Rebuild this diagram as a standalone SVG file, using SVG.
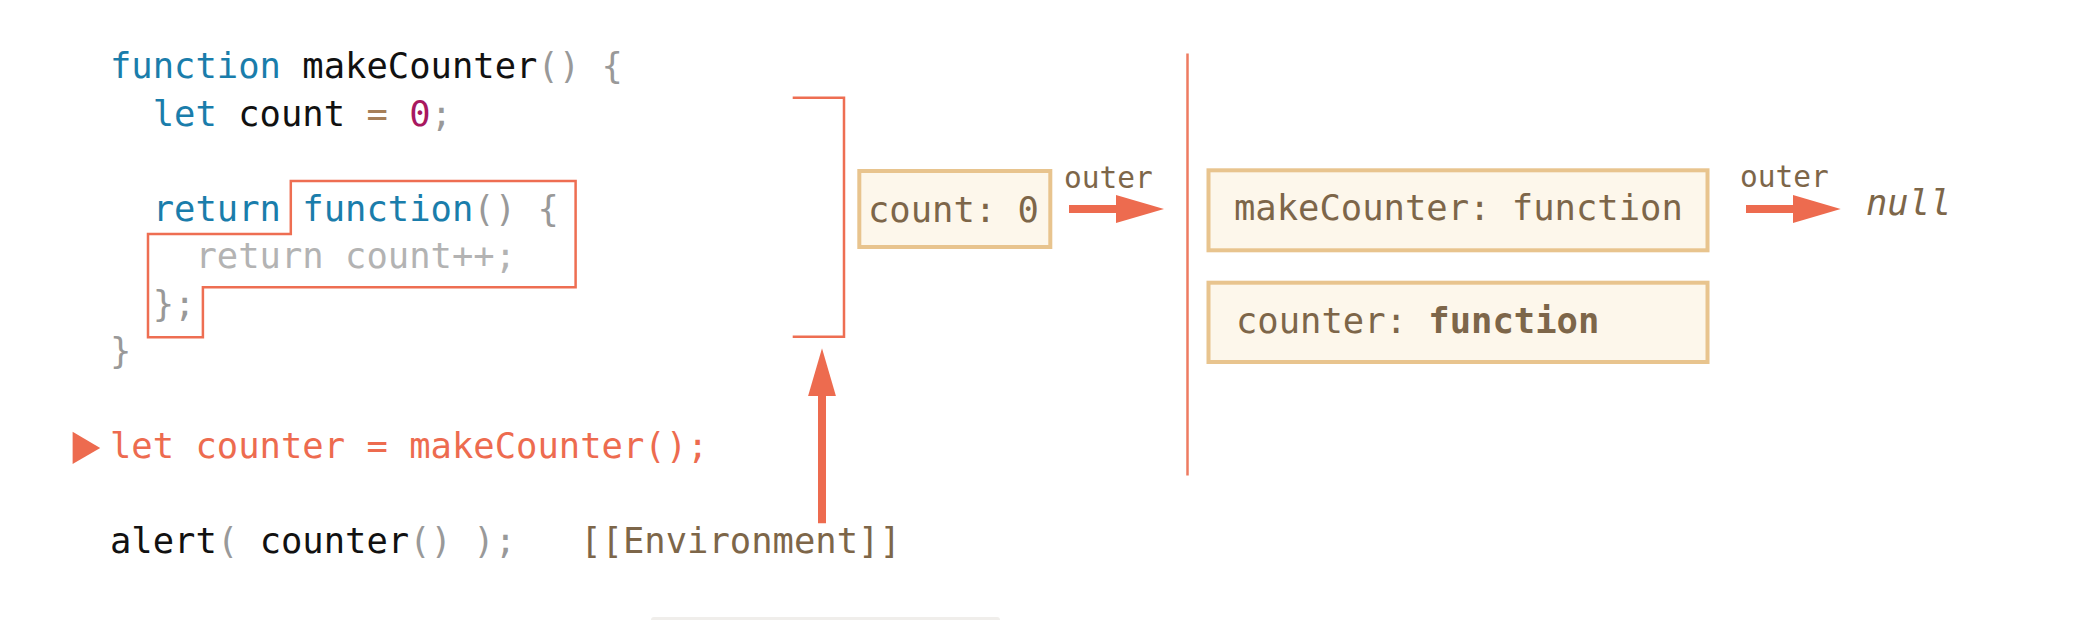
<svg xmlns="http://www.w3.org/2000/svg" width="2100" height="620" viewBox="0 0 2100 620">
<style>
.code{font-family:"DejaVu Sans Mono","Liberation Mono",monospace;font-size:35.5px}
.kw{fill:#1a7dab}
.id{fill:#111}
.pn{fill:#999}
.op{fill:#a67f59}
.num{fill:#a8185f}
.dim{fill:#b3b3b3}
.hot{fill:#ed6b4f}
.env{fill:#7d6649}
.lbl{font-family:"DejaVu Sans Mono","Liberation Mono",monospace;font-size:29.5px;fill:#7d6649}
.box{fill:#fdf7eb;stroke:#e8c48e;stroke-width:4}
.red{fill:none;stroke:#ee6e52;stroke-width:2.5}
.conn{stroke:#ed6b4f;stroke-width:8;fill:none}
</style>
<defs>
<marker id="ah" markerUnits="userSpaceOnUse" markerWidth="50" markerHeight="30" refX="2" refY="14" orient="auto"><path d="M0,0 L48,14 L0,28 Z" fill="#ed6b4f"/></marker>
</defs>
<rect x="651" y="617" width="349" height="6" rx="3" fill="#f0eeeb"/>
<g id="code">
<text class="code" x="110" y="78" xml:space="preserve"><tspan class="kw">function</tspan><tspan class="id"> makeCounter</tspan><tspan class="pn">() {</tspan></text>
<text class="code" x="110" y="125.5" xml:space="preserve"><tspan class="kw">  let</tspan><tspan class="id"> count </tspan><tspan class="op">=</tspan> <tspan class="num">0</tspan><tspan class="pn">;</tspan></text>
<text class="code" x="110" y="220.5" xml:space="preserve"><tspan class="kw">  return function</tspan><tspan class="pn">() {</tspan></text>
<text class="code dim" x="110" y="268" xml:space="preserve">    return count++;</text>
<text class="code pn" x="110" y="315.5" xml:space="preserve">  };</text>
<text class="code pn" x="110" y="363" xml:space="preserve">}</text>
<text class="code hot" x="110" y="458" xml:space="preserve">let counter = makeCounter();</text>
<text class="code" x="110" y="553" xml:space="preserve"><tspan class="id">alert</tspan><tspan class="pn">( </tspan><tspan class="id">counter</tspan><tspan class="pn">() );</tspan>   <tspan class="env">[[Environment]]</tspan></text>
</g>
<g id="pointer"><polygon points="72.6,431.7 100.2,448 72.6,464" fill="#ed6b4f"/></g>
<g id="func-highlight"><polygon class="red" points="290.8,181 575.6,181 575.6,287.3 202.9,287.3 202.9,337.3 148,337.3 148,234 290.8,234"/></g>
<g id="scope-bracket"><path class="red" d="M792.7,97.7 H844 V336.7 H792.7"/></g>
<g id="env-count">
<rect class="box" x="859.3" y="171" width="191" height="76"/>
<text class="code env" x="868" y="222">count: 0</text>
</g>
<g id="separator"><line x1="1187.5" y1="53.5" x2="1187.5" y2="475.5" stroke="#ee7b61" stroke-width="2.5"/></g>
<g id="env-global-1">
<rect class="box" x="1208.5" y="170.3" width="499" height="80"/>
<text class="code env" x="1234" y="220">makeCounter: function</text>
</g>
<g id="env-global-2">
<rect class="box" x="1208.5" y="282.7" width="499" height="79.3"/>
<text class="code env" x="1236" y="333">counter: <tspan font-weight="bold">function</tspan></text>
</g>
<g id="null-node"><text class="code env" x="1866" y="215" font-style="italic">null</text></g>
<g id="connectors">
<line class="conn" x1="1069" y1="209" x2="1118" y2="209" marker-end="url(#ah)"/>
<text class="lbl" x="1064" y="188">outer</text>
<line class="conn" x1="1746" y1="209" x2="1794.7" y2="209" marker-end="url(#ah)"/>
<text class="lbl" x="1740" y="187">outer</text>
<line class="conn" x1="822" y1="523.3" x2="822" y2="394.3" marker-end="url(#ah)"/>
</g>
</svg>
